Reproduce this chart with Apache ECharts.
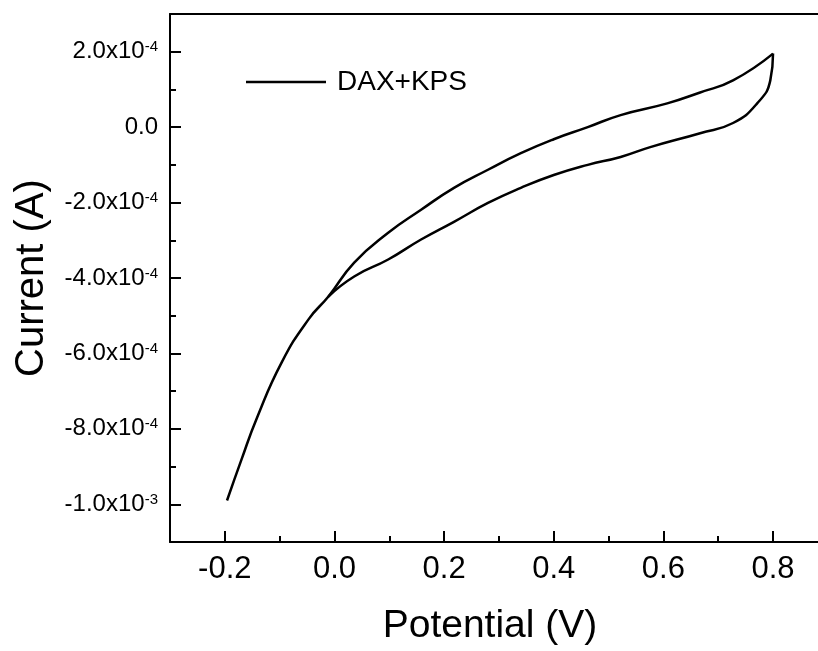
<!DOCTYPE html>
<html>
<head>
<meta charset="utf-8">
<script src="https://cdn.jsdelivr.net/npm/echarts@6/dist/echarts.min.js"></script>
<style>
html,body{margin:0;padding:0;background:#fff;}
#chart{width:818px;height:651px;}
</style>
</head>
<body>
<div id="chart"></div>
<script>
// Forward scan (upper branch), potential in V, current in A
const potentialFwd = [-0.196, -0.169, -0.142, -0.096, -0.047, -0.011, 0.036, 0.098, 0.158, 0.218, 0.280, 0.340, 0.400, 0.462, 0.522, 0.607, 0.667, 0.727, 0.800];
const currentFwd = [-9.90e-4, -8.79e-4, -7.73e-4, -6.23e-4, -5.09e-4, -4.49e-4, -3.59e-4, -2.80e-4, -2.19e-4, -1.61e-4, -1.13e-4, -0.69e-4, -0.32e-4, 0.00e-4, 0.32e-4, 0.63e-4, 0.92e-4, 1.24e-4, 1.95e-4];
// Reverse scan (lower branch)
const potentialRev = [0.800, 0.795, 0.771, 0.727, 0.667, 0.576, 0.522, 0.462, 0.400, 0.340, 0.280, 0.218, 0.158, 0.098, 0.036, -0.011];
const currentRev = [1.95e-4, 1.24e-4, 0.63e-4, 0.11e-4, -0.16e-4, -0.53e-4, -0.79e-4, -1.00e-4, -1.27e-4, -1.61e-4, -2.01e-4, -2.51e-4, -2.98e-4, -3.51e-4, -3.96e-4, -4.49e-4];

const seriesName = 'DAX+KPS';

const xMin = -0.3, xMax = 0.882;
const xTickValues = [-0.2, 0.0, 0.2, 0.4, 0.6, 0.8];
const xTickLabels = ['-0.2', '0.0', '0.2', '0.4', '0.6', '0.8'];
const xMinorTicks = [-0.1, 0.1, 0.3, 0.5, 0.7];

const yMin = -1.1e-3, yMax = 3.0e-4;
const yTickValues = [-1.0e-3, -8.0e-4, -6.0e-4, -4.0e-4, -2.0e-4, 0, 2.0e-4];
const yTickLabels = ['-1.0x10^-3', '-8.0x10^-4', '-6.0x10^-4', '-4.0x10^-4', '-2.0x10^-4', '0.0', '2.0x10^-4'];
const yMinorTicks = [-9.0e-4, -7.0e-4, -5.0e-4, -3.0e-4, -1.0e-4, 1.0e-4];

const FONT = 'Liberation Sans, Arial, sans-serif';

function pairs(xs, ys) { return xs.map((x, i) => [x, ys[i]]); }
function findLabel(vals, labels, v) {
  for (let i = 0; i < vals.length; i++) if (Math.abs(vals[i] - v) < 1e-9) return labels[i];
  return '';
}
const axisLineStyle = {show: true, onZero: false, lineStyle: {color: '#000', width: 2}};
const noLine = {show: false, onZero: false};

const chart = echarts.init(document.getElementById('chart'), null, {renderer: 'canvas'});
chart.setOption({
  animation: false,
  backgroundColor: '#fff',
  grid: {left: 170, right: 0, top: 14, bottom: 107, show: false},
  legend: {
    data: [seriesName],
    left: 241, top: 63,
    icon: 'rect', itemWidth: 80, itemHeight: 2.5,
    itemStyle: {color: '#000'},
    textStyle: {fontFamily: FONT, fontSize: 28, color: '#000', padding: [0, 0, 0, 6]}
  },
  xAxis: [{
    type: 'value', min: xMin, max: xMax, position: 'bottom',
    axisLine: axisLineStyle,
    axisTick: {show: true, inside: true, length: 11, customValues: xTickValues, lineStyle: {color: '#000', width: 2}},
    axisLabel: {show: true, customValues: xTickValues, margin: 12, fontFamily: FONT, fontSize: 31, color: '#000',
      formatter: v => findLabel(xTickValues, xTickLabels, v)},
    splitLine: {show: false},
    name: 'Potential (V)', nameLocation: 'middle', nameGap: 65,
    nameTextStyle: {fontFamily: FONT, fontSize: 39, color: '#000', padding: [0, 8, 0, 0]}
  }, {
    type: 'value', min: xMin, max: xMax, position: 'bottom',
    axisLine: noLine,
    axisTick: {show: true, inside: true, length: 6, customValues: xMinorTicks, lineStyle: {color: '#000', width: 2}},
    axisLabel: {show: false},
    splitLine: {show: false}
  }, {
    type: 'value', min: xMin, max: xMax, position: 'top',
    axisLine: axisLineStyle,
    axisTick: {show: false},
    axisLabel: {show: false},
    splitLine: {show: false}
  }],
  yAxis: [{
    type: 'value', min: yMin, max: yMax, position: 'left',
    axisLine: axisLineStyle,
    axisTick: {show: true, inside: true, length: 11, customValues: yTickValues, lineStyle: {color: '#000', width: 2}},
    axisLabel: {show: true, customValues: yTickValues, margin: 12, fontFamily: FONT, fontSize: 24, color: '#000',
      formatter: v => {
        const s = findLabel(yTickValues, yTickLabels, v);
        const k = s.indexOf('^');
        return k < 0 ? s : s.slice(0, k) + '{s|' + s.slice(k + 1) + '}';
      },
      rich: {s: {fontFamily: FONT, fontSize: 15, color: '#000', verticalAlign: 'top'}}
    },
    splitLine: {show: false},
    name: 'Current (A)', nameLocation: 'middle', nameGap: 118, nameRotate: 90,
    nameTextStyle: {fontFamily: FONT, fontSize: 40, color: '#000'}
  }, {
    type: 'value', min: yMin, max: yMax, position: 'left',
    axisLine: noLine,
    axisTick: {show: true, inside: true, length: 6, customValues: yMinorTicks, lineStyle: {color: '#000', width: 2}},
    axisLabel: {show: false},
    splitLine: {show: false}
  }],
  series: [{
    name: seriesName, type: 'line', xAxisIndex: 0, yAxisIndex: 0,
    data: pairs(potentialFwd, currentFwd),
    showSymbol: false, smooth: 0.5,
    lineStyle: {color: '#000', width: 2.5}, itemStyle: {color: '#000'}
  }, {
    name: seriesName, type: 'line', xAxisIndex: 0, yAxisIndex: 0,
    data: pairs(potentialRev, currentRev),
    showSymbol: false, smooth: 0.5,
    lineStyle: {color: '#000', width: 2.5}, itemStyle: {color: '#000'}
  }]
});
</script>
</body>
</html>
